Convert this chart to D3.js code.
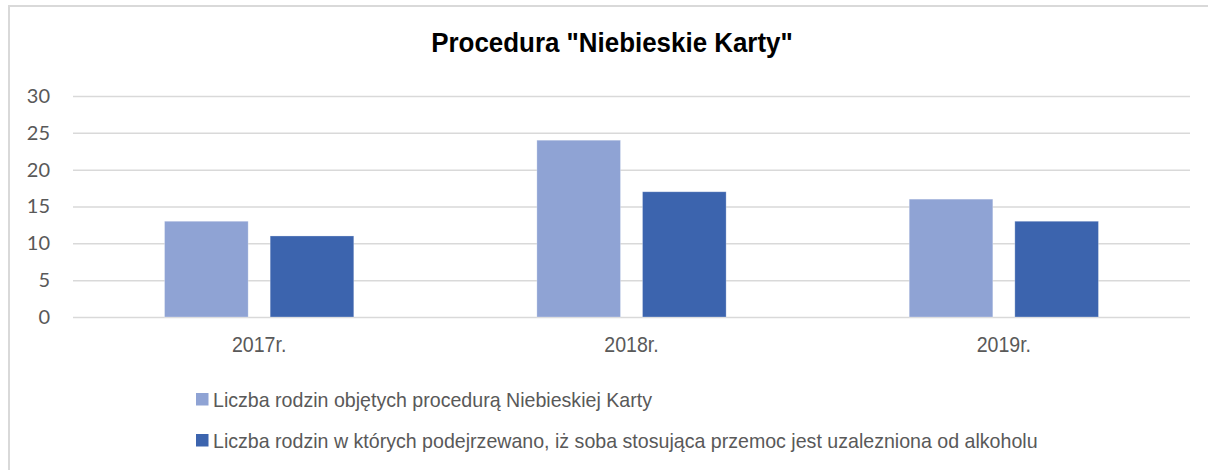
<!DOCTYPE html>
<html>
<head>
<meta charset="utf-8">
<script src="https://cdn.jsdelivr.net/npm/d3@7"></script>
<style>
  body { margin: 0; background: #fff; }
  svg { display: block; }
</style>
</head>
<body>
<svg id="chart"></svg>
<script>
const years = ['2017r.', '2018r.', '2019r.'];
const seriesNames = [
  'Liczba rodzin objętych procedurą Niebieskiej Karty',
  'Liczba rodzin w których podejrzewano, iż soba stosująca przemoc jest uzalezniona od alkoholu'
];
const familiesCovered = [13, 24, 16];
const alcoholSuspected = [11, 17, 13];
const yTicks = [0, 5, 10, 15, 20, 25, 30];
const colors = ['#8FA3D4', '#3C64AE'];

let width = 1208, height = 470;
let plot = { left: 73, right: 1190, top: 96, bottom: 317 };
let narrowFont = '"Liberation Sans Narrow", "Arial Narrow", "Liberation Sans", Arial, sans-serif';

let svg = d3.select('#chart')
  .attr('width', width)
  .attr('height', height);

// outer chart box (runs past the picture on right/bottom)
svg.append('rect')
  .attr('x', 9)
  .attr('y', 6)
  .attr('width', width + 20)
  .attr('height', height + 20)
  .attr('fill', 'none')
  .attr('stroke', '#d9d9d9')
  .attr('stroke-width', 2);

// title, squeezed a bit to look condensed
svg.append('text')
  .attr('transform', 'translate(612,52) scale(0.96,1)')
  .attr('text-anchor', 'middle')
  .attr('font-family', narrowFont)
  .attr('font-weight', 'bold')
  .attr('font-size', 27)
  .attr('fill', '#000')
  .text('Procedura "Niebieskie Karty"');

let x0 = d3.scaleBand()
  .domain(years)
  .range([plot.left, plot.right])
  .paddingInner(0)
  .paddingOuter(0);

let y = d3.scaleLinear()
  .domain([0, 30])
  .range([plot.bottom, plot.top]);

// gridlines
svg.append('g')
  .attr('transform', `translate(${plot.left},0)`)
  .call(d3.axisLeft(y).tickValues(yTicks).tickSize(-(plot.right - plot.left)).tickFormat(''))
  .call(g => g.select('.domain').remove())
  .call(g => g.selectAll('line').attr('stroke', '#d9d9d9').attr('stroke-width', 1.5));

// y labels
svg.append('g')
  .attr('transform', 'translate(50,0)')
  .call(d3.axisLeft(y).tickValues(yTicks).tickSize(0).tickPadding(0))
  .call(g => g.select('.domain').remove())
  .call(g => g.selectAll('text')
    .attr('font-family', 'Lato, sans-serif')
    .attr('font-size', 20)
    .attr('fill', '#595959'));

let barW = x0.bandwidth() * 0.2246;
let gap = 22;

let rows = years.map((yr, i) => ({ year: yr, values: [familiesCovered[i], alcoholSuspected[i]] }));

let groups = svg.selectAll('.grp')
  .data(rows)
  .enter()
  .append('g')
  .attr('class', 'grp')
  .attr('transform', d => `translate(${x0(d.year) + x0.bandwidth() / 2},0)`);

groups.selectAll('rect')
  .data(d => d.values)
  .enter()
  .append('rect')
  .attr('x', (d, i) => i === 0 ? -(gap / 2 + barW) : gap / 2)
  .attr('y', d => y(d))
  .attr('width', barW)
  .attr('height', d => y(0) - y(d))
  .attr('fill', (d, i) => colors[i])
  .attr('stroke', '#ffffff')
  .attr('stroke-opacity', 0.35)
  .attr('stroke-width', 0.8);

// category labels
svg.append('g')
  .attr('transform', `translate(0,${plot.bottom})`)
  .call(d3.axisBottom(x0).tickSize(0).tickPadding(0))
  .call(g => g.select('.domain').remove())
  .call(g => g.selectAll('text')
    .attr('dy', null)
    .attr('y', 35)
    .attr('transform', 'scale(0.89,1)')
    .attr('font-family', narrowFont)
    .attr('font-size', 22)
    .attr('fill', '#595959'));

// legend
let legend = svg.selectAll('.legend')
  .data(seriesNames)
  .enter()
  .append('g')
  .attr('class', 'legend')
  .attr('transform', (d, i) => `translate(196,${399 + i * 41})`);

legend.append('rect')
  .attr('x', 0)
  .attr('y', -6)
  .attr('width', 12.5)
  .attr('height', 12.5)
  .attr('fill', (d, i) => colors[i]);

legend.append('text')
  .attr('transform', 'translate(17,7.5) scale(0.98,1)')
  .attr('font-family', narrowFont)
  .attr('font-size', 20)
  .attr('fill', '#595959')
  .text(d => d);
</script>
</body>
</html>
